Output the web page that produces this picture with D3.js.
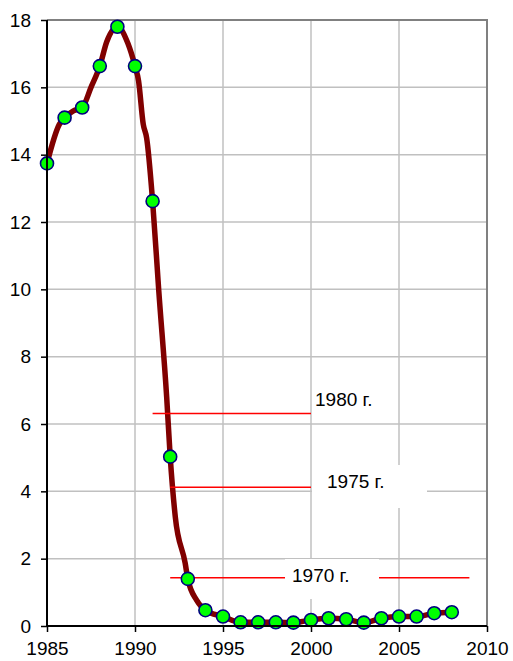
<!DOCTYPE html>
<html><head><meta charset="utf-8">
<script src="https://cdn.jsdelivr.net/npm/d3@7/dist/d3.min.js"></script>
<style>body{margin:0;background:#fff}svg{display:block}text{font-family:"Liberation Sans",Arial,sans-serif;}</style>
</head><body><svg id="c" width="513" height="661"></svg>
<script>
// Data
const markerYears = [1985,1986,1987,1988,1989,1990,1991,1992,1993,1994,1995,1996,1997,1998,1999,2000,2001,2002,2003,2004,2005,2006,2007,2008];
const markerValues = [13.74,15.1,15.4,16.63,17.8,16.63,12.62,5.03,1.40,0.47,0.28,0.11,0.11,0.11,0.10,0.18,0.23,0.20,0.10,0.23,0.28,0.28,0.38,0.41];
const lineYears = [1985,1985.7,1986,1986.5,1987,1987.5,1988,1988.4,1989,1989.6,1990,1990.2,1990.47,1990.66,1991,1991.35,1991.8,1992,1992.29,1992.85,1993,1993.5,1993.78,1994,1995,1996,1997,1998,1999,2000,2001,2002,2003,2004,2005,2006,2007,2008];
const lineValues = [13.74,14.9,15.1,15.3,15.4,16.0,16.63,17.36,17.8,17.3,16.63,16.2,14.9,14.5,12.62,9.96,6.8,5.03,3.24,1.87,1.40,0.77,0.57,0.47,0.28,0.11,0.11,0.11,0.10,0.18,0.23,0.20,0.10,0.23,0.28,0.28,0.38,0.41];
const refLabels = ["1980 г.","1975 г.","1970 г."];
const refValues = [6.31,4.12,1.43];
const refStart = [1991,1992,1992];
const refEnd = [2000,2000,2009];
const xTicks = [1985,1990,1995,2000,2005,2010];
const yTicks = [0,2,4,6,8,10,12,14,16,18];

const W=513,H=661, m={l:47,r:26,t:20,b:35};
const svg=d3.select("#c");
const x=d3.scaleLinear().domain([1985,2010]).range([m.l,W-m.r]);
const y=d3.scaleLinear().domain([0,18]).range([H-m.b,m.t]);

// gridlines
const g=svg.append("g");
g.selectAll(".hg").data(yTicks.filter(d=>d>0&&d<18)).enter().append("line")
 .attr("x1",x(1985)).attr("x2",x(2010)).attr("y1",d=>y(d)).attr("y2",d=>y(d))
 .attr("stroke","#c0c0c0").attr("stroke-width",1.5);
g.selectAll(".vg").data(xTicks.filter(d=>d>1985&&d<2010)).enter().append("line")
 .attr("y1",y(0)).attr("y2",y(18)).attr("x1",d=>x(d)).attr("x2",d=>x(d))
 .attr("stroke","#c0c0c0").attr("stroke-width",1.5);
// frame top/right
svg.append("path").attr("d",`M${x(1985)},${y(18)}H${x(2010)}V${y(0)}`)
 .attr("fill","none").attr("stroke","#808080").attr("stroke-width",2);

// main line
const line=d3.line().x((d,i)=>x(lineYears[i])).y(d=>y(d)).curve(d3.curveMonotoneX);
svg.append("path").datum(lineValues).attr("d",line).attr("fill","none")
 .attr("stroke","#800000").attr("stroke-width",5.5).attr("stroke-linejoin","round");

// reference lines
refValues.forEach((v,i)=>{
  svg.append("line").attr("x1",x(refStart[i])).attr("x2",x(refEnd[i]))
   .attr("y1",y(v)).attr("y2",y(v)).attr("stroke","#ff0000").attr("stroke-width",1.5);
});

// label boxes
const boxes=[null,{x0:312,x1:427,y0:465,y1:508},{x0:285,x1:379,y0:559,y1:599}];
const labelPos=[{x:315,y:406},{x:327,y:488},{x:292,y:582}];
refLabels.forEach((t,i)=>{
  const b=boxes[i];
  if(b) svg.append("rect").attr("x",b.x0).attr("y",b.y0).attr("width",b.x1-b.x0).attr("height",b.y1-b.y0).attr("fill","#fff");
  svg.append("text").attr("x",labelPos[i].x).attr("y",labelPos[i].y).attr("font-size",19).attr("fill","#000").text(t);
});

// markers
svg.selectAll(".mk").data(markerValues).enter().append("circle")
 .attr("cx",(d,i)=>x(markerYears[i])).attr("cy",d=>y(d)).attr("r",6.5)
 .attr("fill","#00ff00").attr("stroke","#000080").attr("stroke-width",1.6);

// axes
const ax=svg.append("g").attr("transform",`translate(0,${y(0)})`)
 .call(d3.axisBottom(x).tickValues(xTicks).tickFormat(d3.format("d")).tickSize(6).tickPadding(10));
const ay=svg.append("g").attr("transform",`translate(${x(1985)},0)`)
 .call(d3.axisLeft(y).tickValues(yTicks).tickSize(6).tickPadding(10));
[ax,ay].forEach(a=>{
  a.select(".domain").attr("stroke","#000").attr("stroke-width",2);
  a.selectAll(".tick line").attr("stroke","#000").attr("stroke-width",1.5);
  a.selectAll("text").attr("font-size",19).attr("fill","#000").attr("font-family","Liberation Sans, Arial, sans-serif");
});
ay.select(".domain").attr("d",`M0,${y(18)}V${y(0)}`);
ax.select(".domain").attr("d",`M${x(1985)},0H${x(2010)}`);
</script></body></html>
